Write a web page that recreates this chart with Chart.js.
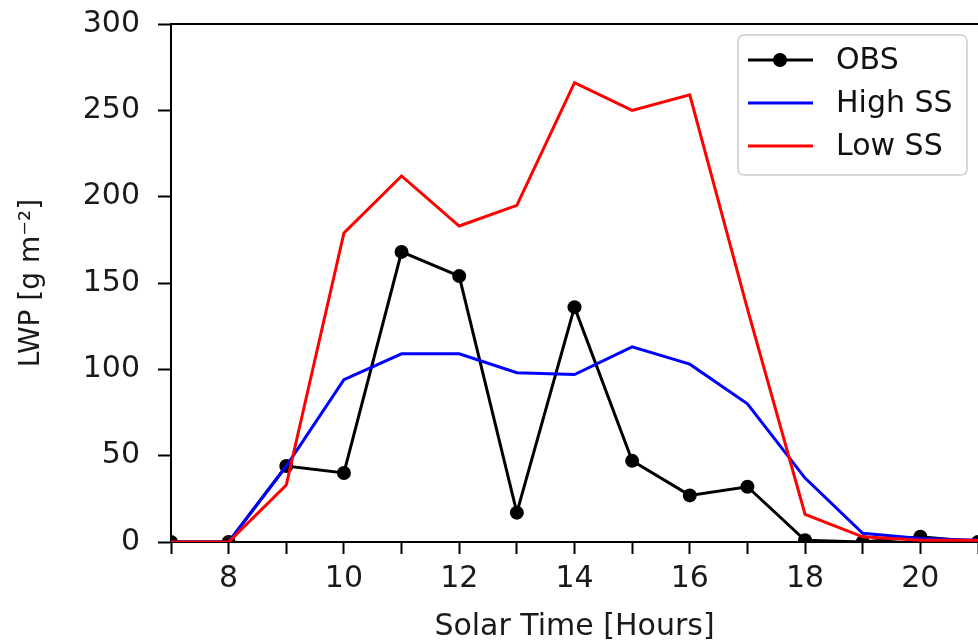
<!DOCTYPE html>
<html>
<head>
<meta charset="utf-8">
<script src="https://cdn.jsdelivr.net/npm/chart.js@4.4.1/dist/chart.umd.min.js"></script>
<style>
  html, body { margin: 0; padding: 0; background: #fff; }
</style>
</head>
<body>
<canvas id="lwpChart" width="978" height="642"></canvas>
<script>
// values
const hours = [7, 8, 9, 10, 11, 12, 13, 14, 15, 16, 17, 18, 19, 20, 21];
const obsLwp = [0, 0, 44, 40, 168, 154, 17, 136, 47, 27, 32, 1, 0, 3, 0];
const highSsLwp = [0, 0, 44, 94, 109, 109, 98, 97, 113, 103, 80, 37, 5, 2, 1];
const lowSsLwp = [0, 0, 33, 179, 212, 183, 195, 266, 250, 259, 135, 16, 3, 1, 1];
const yTicks = [0, 50, 100, 150, 200, 250, 300];

const toPoints = vals => hours.map((h, i) => ({ x: h, y: vals[i] }));
const font = 'DejaVu Sans';

// matplotlib style box legend drawn in the upper right of the axes
const boxLegend = {
    id: 'boxLegend',
    afterDraw(chart) {
        const ctx = chart.ctx;
        const area = chart.chartArea;
        // top spine
        ctx.save();
        ctx.strokeStyle = '#000';
        ctx.lineWidth = 2;
        ctx.beginPath();
        ctx.moveTo(area.left - 1, area.top);
        ctx.lineTo(area.right, area.top);
        ctx.stroke();

        const w = 229, h = 140;
        const x0 = area.right - 11 - w, y0 = area.top + 11;
        ctx.fillStyle = 'rgba(255,255,255,0.8)';
        ctx.strokeStyle = '#cccccc';
        ctx.lineWidth = 1.5;
        ctx.beginPath();
        ctx.roundRect(x0, y0, w, h, 6);
        ctx.fill();
        ctx.stroke();

        ctx.font = '30px "' + font + '"';
        ctx.textBaseline = 'middle';
        ctx.textAlign = 'left';
        chart.data.datasets.forEach((ds, i) => {
            const cy = y0 + 25 + i * 43;
            ctx.strokeStyle = ds.borderColor;
            ctx.lineWidth = ds.borderWidth;
            ctx.beginPath();
            ctx.moveTo(x0 + 10, cy);
            ctx.lineTo(x0 + 75, cy);
            ctx.stroke();
            if (ds.pointRadius > 0) {
                ctx.fillStyle = ds.pointBackgroundColor;
                ctx.beginPath();
                ctx.arc(x0 + 42, cy, ds.pointRadius, 0, Math.PI * 2);
                ctx.fill();
            }
            ctx.fillStyle = '#111';
            ctx.fillText(ds.label, x0 + 98, cy + 1);
        });
        ctx.restore();
    }
};

const ctxLine = document.getElementById('lwpChart').getContext('2d');
const lwpChart = new Chart(ctxLine, {
    type: 'line',
    data: {
        datasets: [{
            label: 'OBS',
            data: toPoints(obsLwp),
            borderColor: '#000000',
            borderWidth: 3,
            pointRadius: 7,
            pointBackgroundColor: '#000000',
            pointBorderWidth: 0,
            order: 3
        }, {
            label: 'High SS',
            data: toPoints(highSsLwp),
            borderColor: '#0000ff',
            borderWidth: 3,
            pointRadius: 0,
            order: 2
        }, {
            label: 'Low SS',
            data: toPoints(lowSsLwp),
            borderColor: '#ff0000',
            borderWidth: 3,
            pointRadius: 0,
            order: 1
        }]
    },
    options: {
        responsive: false,
        animation: false,
        events: [],
        layout: { autoPadding: false, padding: { top: 24, right: 0, left: 0, bottom: 0 } },
        plugins: {
            legend: { display: false },
            tooltip: { enabled: false }
        },
        elements: { line: { tension: 0 } },
        scales: {
            x: {
                type: 'linear',
                min: 7,
                max: 21,
                afterFit: scale => {
                    scale.height = 100;
                    scale.paddingLeft = 0;
                    scale.paddingRight = 0;
                },
                afterBuildTicks: scale => {
                    scale.ticks = hours.map(v => ({ value: v }));
                },
                border: { display: true, color: '#000', width: 2 },
                grid: {
                    drawOnChartArea: false,
                    drawTicks: true,
                    tickLength: 12,
                    tickWidth: 2,
                    tickColor: '#000'
                },
                ticks: {
                    autoSkip: false,
                    maxRotation: 0,
                    padding: 7,
                    color: '#1a1a1a',
                    font: { family: font, size: 30 },
                    callback: v => (v % 2 === 0 ? v : '')
                },
                title: {
                    display: true,
                    text: 'Solar Time [Hours]',
                    color: '#1a1a1a',
                    font: { family: font, size: 30 },
                    padding: { top: 0, bottom: -3 }
                }
            },
            y: {
                min: 0,
                max: 300,
                afterFit: scale => {
                    scale.width = 171;
                    scale.paddingTop = 0;
                    scale.paddingBottom = 0;
                },
                afterBuildTicks: scale => {
                    scale.ticks = yTicks.map(v => ({ value: v }));
                },
                border: { display: true, color: '#000', width: 2 },
                grid: {
                    drawOnChartArea: false,
                    drawTicks: true,
                    tickLength: 13,
                    tickWidth: 2,
                    tickColor: '#000'
                },
                ticks: {
                    padding: 18,
                    color: '#1a1a1a',
                    font: { family: font, size: 30 }
                },
                title: {
                    display: true,
                    text: 'LWP [g m⁻²]',
                    color: '#1a1a1a',
                    font: { family: font, size: 28 },
                    padding: { top: 15, bottom: 0 }
                }
            }
        }
    },
    plugins: [boxLegend]
});
</script>
</body>
</html>
